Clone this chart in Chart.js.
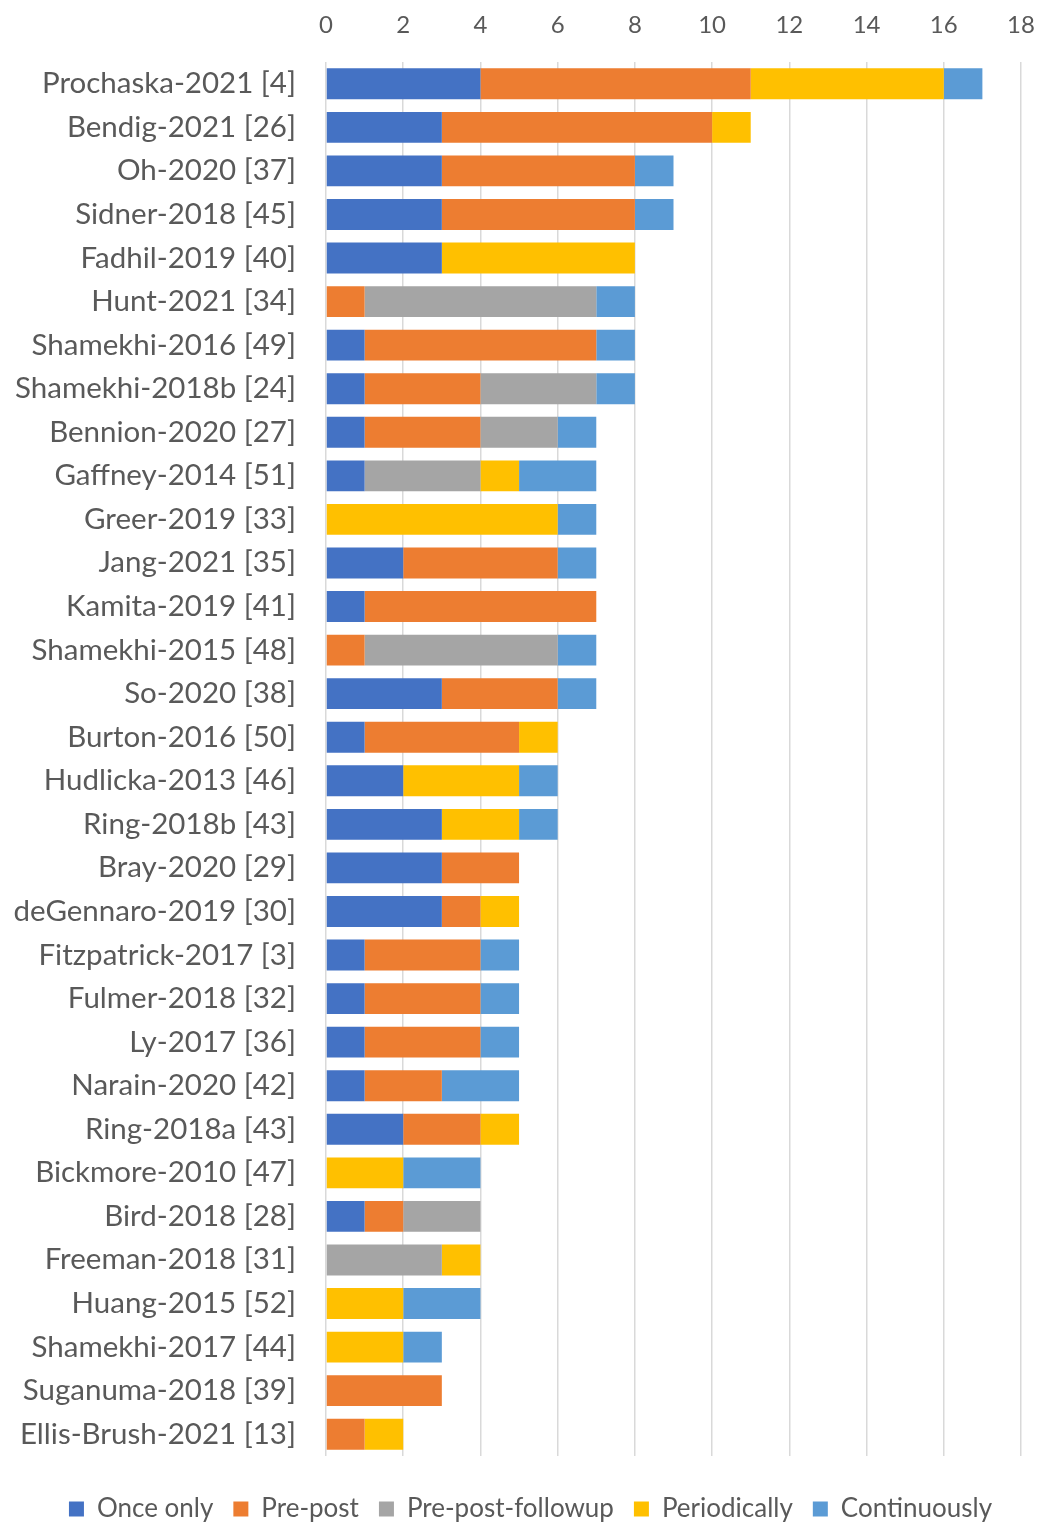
<!DOCTYPE html>
<html>
<head>
<meta charset="utf-8">
<script src="https://cdn.jsdelivr.net/npm/chart.js@4.4.1/dist/chart.umd.min.js"></script>
<style>
  html, body { margin: 0; padding: 0; background: #ffffff; }
  #wrap { width: 1040px; height: 1522px; position: relative; }
</style>
</head>
<body>
<div id="wrap"><canvas id="c" width="1040" height="1522"></canvas></div>
<script>
const categories = [
  "Prochaska-2021 [4]", "Bendig-2021 [26]", "Oh-2020 [37]", "Sidner-2018 [45]",
  "Fadhil-2019 [40]", "Hunt-2021 [34]", "Shamekhi-2016 [49]", "Shamekhi-2018b [24]",
  "Bennion-2020 [27]", "Gaffney-2014 [51]", "Greer-2019 [33]", "Jang-2021 [35]",
  "Kamita-2019 [41]", "Shamekhi-2015 [48]", "So-2020 [38]", "Burton-2016 [50]",
  "Hudlicka-2013 [46]", "Ring-2018b [43]", "Bray-2020 [29]", "deGennaro-2019 [30]",
  "Fitzpatrick-2017 [3]", "Fulmer-2018 [32]", "Ly-2017 [36]", "Narain-2020 [42]",
  "Ring-2018a [43]", "Bickmore-2010 [47]", "Bird-2018 [28]", "Freeman-2018 [31]",
  "Huang-2015 [52]", "Shamekhi-2017 [44]", "Suganuma-2018 [39]", "Ellis-Brush-2021 [13]"
];
const seriesNames = ["Once only", "Pre-post", "Pre-post-followup", "Periodically", "Continuously"];
const onceOnly         = [4,3,3,3,3,0,1,1,1,1,0,2,1,0,3,1,2,3,3,3,1,1,1,1,2,0,1,0,0,0,0,0];
const prePost          = [7,7,5,5,0,1,6,3,3,0,0,4,6,1,3,4,0,0,2,1,3,3,3,2,2,0,1,0,0,0,3,1];
const prePostFollowup  = [0,0,0,0,0,6,0,3,2,3,0,0,0,5,0,0,0,0,0,0,0,0,0,0,0,0,2,3,0,0,0,0];
const periodically     = [5,1,0,0,5,0,0,0,0,1,6,0,0,0,0,1,3,2,0,1,0,0,0,0,1,2,0,1,2,2,0,1];
const continuously     = [1,0,1,1,0,1,1,1,1,2,1,1,0,1,1,0,1,1,0,0,1,1,1,2,0,2,0,0,2,1,0,0];
const xTicks = [0,2,4,6,8,10,12,14,16,18];
const colors = ["#4472C4", "#ED7D31", "#A5A5A5", "#FFC000", "#5B9BD5"];

const values = [onceOnly, prePost, prePostFollowup, periodically, continuously];
const datasets = seriesNames.map((n, i) => ({
  label: n,
  data: values[i],
  backgroundColor: colors[i],
  borderWidth: 0,
  categoryPercentage: 1.0,
  barPercentage: 0.71
}));

const legendShift = {
  id: 'legendShift',
  afterLayout(chart) {
    if (chart.legend) { chart.legend.left += 20; chart.legend.right += 20; }
  }
};

const FONT = "Lato, 'Open Sans', sans-serif";
new Chart(document.getElementById('c'), {
  type: 'bar',
  data: { labels: categories, datasets },
  plugins: [legendShift],
  options: {
    indexAxis: 'y',
    responsive: false,
    animation: false,
    devicePixelRatio: 1,
    layout: { padding: { left: 0, right: 19, top: 0, bottom: -10 } },
    scales: {
      x: {
        position: 'top',
        stacked: true,
        min: 0, max: 18,
        afterBuildTicks: (s) => { s.ticks = xTicks.map(v => ({ value: v })); },
        afterFit: (s) => { s.height = 62; s.paddingLeft = 0; s.paddingRight = 0; },
        grid: { color: '#d9d9d9', lineWidth: 1.5, drawTicks: false },
        border: { display: false },
        ticks: { color: '#595959', font: { family: FONT, size: 24 }, padding: 22 }
      },
      xPad: {
        type: 'linear',
        axis: 'x',
        position: 'bottom',
        display: true,
        afterFit: (s) => { s.height = 20; s.paddingLeft = 0; s.paddingRight = 0; },
        grid: { display: false, drawTicks: false },
        border: { display: false },
        ticks: { display: false }
      },
      y: {
        stacked: true,
        afterFit: (s) => { s.width = 326; },
        grid: { display: false, drawTicks: false },
        border: { display: false },
        ticks: { color: '#595959', font: { family: FONT, size: 29.5 }, padding: 30, autoSkip: false }
      }
    },
    plugins: {
      legend: {
        position: 'bottom',
        labels: {
          color: '#595959',
          font: { family: FONT, size: 26 },
          boxWidth: 15, boxHeight: 15,
          padding: 20
        }
      },
      tooltip: { enabled: false }
    }
  }
});
</script>
</body>
</html>
